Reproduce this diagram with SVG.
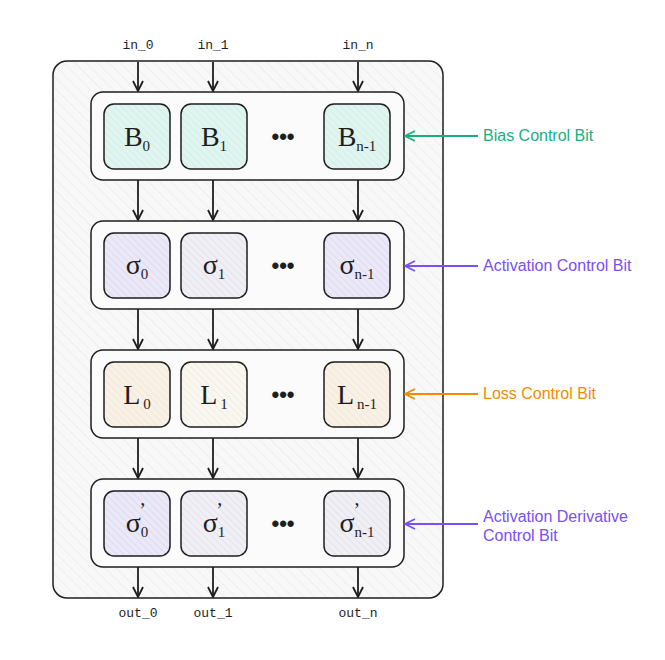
<svg xmlns="http://www.w3.org/2000/svg" width="665" height="660" viewBox="0 0 665 660">
<style>
.io{font-family:"Liberation Mono","DejaVu Sans Mono",monospace;font-size:13px;fill:#1e1e1e;text-anchor:middle}
.grp{fill:#fbfbfb;stroke:#1e1e1e;stroke-width:1.5}
.cell{stroke:#1e1e1e;stroke-width:1.5}
.sym{font-family:"Liberation Serif","DejaVu Serif",serif;font-size:28px;fill:#1e1e1e;text-anchor:middle}
.sub{font-size:15px}
.pr{font-size:20px}
.dots{font-family:"Liberation Sans",sans-serif;font-size:22px;fill:#1e1e1e;text-anchor:middle;font-weight:bold}
.lbl{font-family:"Liberation Sans","DejaVu Sans",sans-serif;font-size:16px}
.conn{stroke:#1e1e1e;stroke-width:1.8;fill:none}
</style>
<defs>
<pattern id="hOuter" width="8" height="8" patternUnits="userSpaceOnUse" patternTransform="rotate(-45)">
<rect width="8" height="8" fill="#f8f8f8"/><line x1="0" y1="0" x2="0" y2="8" stroke="#e6e6e6" stroke-width="1"/>
</pattern>
<pattern id="hGreen" width="5" height="5" patternUnits="userSpaceOnUse" patternTransform="rotate(-45)">
<rect width="5" height="5" fill="#e1f5f0"/><line x1="0" y1="0" x2="0" y2="5" stroke="#c5ebe0" stroke-width="1.2"/>
</pattern>
<pattern id="hPurple" width="5" height="5" patternUnits="userSpaceOnUse" patternTransform="rotate(-45)">
<rect width="5" height="5" fill="#ebe8f7"/><line x1="0" y1="0" x2="0" y2="5" stroke="#d6d2ee" stroke-width="1.2"/>
</pattern>
<pattern id="hPurpleL" width="5" height="5" patternUnits="userSpaceOnUse" patternTransform="rotate(-45)">
<rect width="5" height="5" fill="#f0eff5"/><line x1="0" y1="0" x2="0" y2="5" stroke="#dcdbe6" stroke-width="1.2"/>
</pattern>
<pattern id="hOrange" width="5" height="5" patternUnits="userSpaceOnUse" patternTransform="rotate(-45)">
<rect width="5" height="5" fill="#f9f1e6"/><line x1="0" y1="0" x2="0" y2="5" stroke="#efe2d0" stroke-width="1.2"/>
</pattern>
<pattern id="hOrangeL" width="5" height="5" patternUnits="userSpaceOnUse" patternTransform="rotate(-45)">
<rect width="5" height="5" fill="#faf6f0"/><line x1="0" y1="0" x2="0" y2="5" stroke="#efe8de" stroke-width="1.2"/>
</pattern>
<marker id="ah" viewBox="0 0 12 12" refX="11" refY="6" markerWidth="12" markerHeight="12" markerUnits="userSpaceOnUse" orient="auto">
<path d="M1,1 L11,6 L1,11" fill="none" stroke="#1e1e1e" stroke-width="1.8"/>
</marker>
<marker id="ahG" viewBox="0 0 12 12" refX="11" refY="6" markerWidth="12" markerHeight="12" markerUnits="userSpaceOnUse" orient="auto">
<path d="M1,1 L11,6 L1,11" fill="none" stroke="#1aae7f" stroke-width="1.8"/>
</marker>
<marker id="ahP" viewBox="0 0 12 12" refX="11" refY="6" markerWidth="12" markerHeight="12" markerUnits="userSpaceOnUse" orient="auto">
<path d="M1,1 L11,6 L1,11" fill="none" stroke="#7950f2" stroke-width="1.8"/>
</marker>
<marker id="ahO" viewBox="0 0 12 12" refX="11" refY="6" markerWidth="12" markerHeight="12" markerUnits="userSpaceOnUse" orient="auto">
<path d="M1,1 L11,6 L1,11" fill="none" stroke="#f08c00" stroke-width="1.8"/>
</marker>
</defs>
<rect width="665" height="660" fill="#ffffff"/>

<g id="outer">
<rect x="53" y="61" width="390" height="537" rx="14" fill="url(#hOuter)" stroke="#1e1e1e" stroke-width="1.5"/>
</g>

<g id="io-labels">
<text class="io" x="138" y="49">in_0</text>
<text class="io" x="213" y="49">in_1</text>
<text class="io" x="358" y="49">in_n</text>
<text class="io" x="138" y="617">out_0</text>
<text class="io" x="213" y="617">out_1</text>
<text class="io" x="358" y="617">out_n</text>
</g>

<g id="bias-row">
<rect class="grp" x="91" y="92" width="313" height="88" rx="12"/>
<rect class="cell" x="104" y="104" width="66" height="65" rx="10" fill="url(#hGreen)"/>
<rect class="cell" x="181" y="104" width="66" height="65" rx="10" fill="url(#hGreen)"/>
<rect class="cell" x="324" y="104" width="66" height="65" rx="10" fill="url(#hGreen)"/>
<text class="sym" x="137" y="146">B<tspan class="sub" dy="5">0</tspan></text>
<text class="sym" x="214" y="146">B<tspan class="sub" dy="5">1</tspan></text>
<text class="sym" x="357" y="146">B<tspan class="sub" dy="5">n-1</tspan></text>
<text class="dots" x="283" y="144">•••</text>
</g>

<g id="activation-row">
<rect class="grp" x="91" y="221" width="313" height="88" rx="12"/>
<rect class="cell" x="104" y="233" width="66" height="65" rx="10" fill="url(#hPurple)"/>
<rect class="cell" x="181" y="233" width="66" height="65" rx="10" fill="url(#hPurpleL)"/>
<rect class="cell" x="324" y="233" width="66" height="65" rx="10" fill="url(#hPurple)"/>
<text class="sym" x="137" y="274">σ<tspan class="sub" dy="5">0</tspan></text>
<text class="sym" x="214" y="274">σ<tspan class="sub" dy="5">1</tspan></text>
<text class="sym" x="357" y="274">σ<tspan class="sub" dy="5">n-1</tspan></text>
<text class="dots" x="283" y="273">•••</text>
</g>

<g id="loss-row">
<rect class="grp" x="91" y="350" width="313" height="88" rx="12"/>
<rect class="cell" x="104" y="362" width="66" height="65" rx="10" fill="url(#hOrange)"/>
<rect class="cell" x="181" y="362" width="66" height="65" rx="10" fill="url(#hOrangeL)"/>
<rect class="cell" x="324" y="362" width="66" height="65" rx="10" fill="url(#hOrange)"/>
<text class="sym" x="137" y="404">L<tspan class="sub" dy="5" dx="3">0</tspan></text>
<text class="sym" x="214" y="404">L<tspan class="sub" dy="5" dx="3">1</tspan></text>
<text class="sym" x="357" y="404">L<tspan class="sub" dy="5" dx="3">n-1</tspan></text>
<text class="dots" x="283" y="402">•••</text>
</g>

<g id="derivative-row">
<rect class="grp" x="91" y="479" width="313" height="88" rx="12"/>
<rect class="cell" x="104" y="491" width="66" height="65" rx="10" fill="url(#hPurple)"/>
<rect class="cell" x="181" y="491" width="66" height="65" rx="10" fill="url(#hPurpleL)"/>
<rect class="cell" x="324" y="491" width="66" height="65" rx="10" fill="url(#hPurpleL)"/>
<text class="sym" x="137" y="532">σ<tspan class="sub" dy="5">0</tspan><tspan class="pr" dx="-9" dy="-20">’</tspan></text>
<text class="sym" x="214" y="532">σ<tspan class="sub" dy="5">1</tspan><tspan class="pr" dx="-9" dy="-20">’</tspan></text>
<text class="sym" x="357" y="532">σ<tspan class="sub" dy="5">n-1</tspan><tspan class="pr" dx="-21" dy="-20">’</tspan></text>
<text class="dots" x="283" y="531">•••</text>
</g>

<g id="connectors">
<line class="conn" x1="138" y1="62" x2="138" y2="91" marker-end="url(#ah)"/>
<line class="conn" x1="213" y1="62" x2="213" y2="91" marker-end="url(#ah)"/>
<line class="conn" x1="358" y1="62" x2="358" y2="91" marker-end="url(#ah)"/>
<line class="conn" x1="138" y1="180" x2="138" y2="220" marker-end="url(#ah)"/>
<line class="conn" x1="213" y1="180" x2="213" y2="220" marker-end="url(#ah)"/>
<line class="conn" x1="358" y1="180" x2="358" y2="220" marker-end="url(#ah)"/>
<line class="conn" x1="138" y1="309" x2="138" y2="349" marker-end="url(#ah)"/>
<line class="conn" x1="213" y1="309" x2="213" y2="349" marker-end="url(#ah)"/>
<line class="conn" x1="358" y1="309" x2="358" y2="349" marker-end="url(#ah)"/>
<line class="conn" x1="138" y1="438" x2="138" y2="478" marker-end="url(#ah)"/>
<line class="conn" x1="213" y1="438" x2="213" y2="478" marker-end="url(#ah)"/>
<line class="conn" x1="358" y1="438" x2="358" y2="478" marker-end="url(#ah)"/>
<line class="conn" x1="138" y1="567" x2="138" y2="597" marker-end="url(#ah)"/>
<line class="conn" x1="213" y1="567" x2="213" y2="597" marker-end="url(#ah)"/>
<line class="conn" x1="358" y1="567" x2="358" y2="597" marker-end="url(#ah)"/>
<line x1="478" y1="136" x2="405" y2="136" stroke="#1aae7f" stroke-width="1.8" marker-end="url(#ahG)"/>
<line x1="478" y1="266" x2="405" y2="266" stroke="#7950f2" stroke-width="1.8" marker-end="url(#ahP)"/>
<line x1="478" y1="394" x2="405" y2="394" stroke="#f08c00" stroke-width="1.8" marker-end="url(#ahO)"/>
<line x1="478" y1="524" x2="405" y2="524" stroke="#7950f2" stroke-width="1.8" marker-end="url(#ahP)"/>
</g>

<g id="control-labels">
<text class="lbl" x="483" y="141" fill="#1aae7f">Bias Control Bit</text>
<text class="lbl" x="483" y="271" fill="#7950f2">Activation Control Bit</text>
<text class="lbl" x="483" y="399" fill="#f08c00">Loss Control Bit</text>
<text class="lbl" x="483" y="522" fill="#7950f2">Activation Derivative</text>
<text class="lbl" x="483" y="541" fill="#7950f2">Control Bit</text>
</g>
</svg>
